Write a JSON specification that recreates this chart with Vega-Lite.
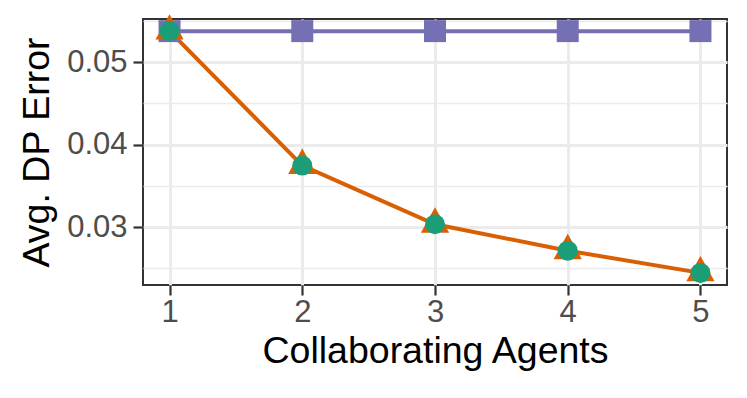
{
  "$schema": "https://vega.github.io/schema/vega-lite/v6.json",
  "width": 584,
  "height": 266,
  "autosize": {"type": "none"},
  "padding": {"left": 143, "top": 19, "right": 20, "bottom": 113},
  "background": "white",
  "config": {
    "font": "Liberation Sans",
    "view": {"stroke": "#333333", "strokeWidth": 2},
    "axis": {
      "domain": false,
      "gridColor": "#EBEBEB",
      "tickColor": "#333333",
      "tickWidth": 2.2,
      "tickSize": 10,
      "labelColor": "#4D4D4D",
      "labelFontSize": 31,
      "labelFont": "Liberation Sans",
      "titleFont": "Liberation Sans",
      "titleFontSize": 37.5,
      "titleFontWeight": "normal",
      "titleColor": "#000000",
      "labelOverlap": false,
      "labelFlush": false
    }
  },
  "data": {
    "values": [
      {"series": "A", "agents": 1, "error": 0.05377},
      {"series": "A", "agents": 2, "error": 0.05377},
      {"series": "A", "agents": 3, "error": 0.05377},
      {"series": "A", "agents": 4, "error": 0.05377},
      {"series": "A", "agents": 5, "error": 0.05377},
      {"series": "B", "agents": 1, "error": 0.05377},
      {"series": "B", "agents": 2, "error": 0.03747},
      {"series": "B", "agents": 3, "error": 0.03036},
      {"series": "B", "agents": 4, "error": 0.02715},
      {"series": "B", "agents": 5, "error": 0.02446},
      {"series": "C", "agents": 1, "error": 0.05377},
      {"series": "C", "agents": 2, "error": 0.03747},
      {"series": "C", "agents": 3, "error": 0.03036},
      {"series": "C", "agents": 4, "error": 0.02715},
      {"series": "C", "agents": 5, "error": 0.02446}
    ]
  },
  "encoding": {
    "x": {
      "field": "agents",
      "type": "quantitative",
      "title": "Collaborating Agents",
      "scale": {"domain": [0.8, 5.2], "nice": false, "zero": false},
      "axis": {
        "values": [1, 1.5, 2, 2.5, 3, 3.5, 4, 4.5, 5],
        "labelExpr": "datum.value % 1 === 0 ? datum.label : ''",
        "format": "d",
        "gridWidth": {"condition": {"test": "datum.value % 1 !== 0", "value": 1.5}, "value": 3},
        "tickOpacity": {"condition": {"test": "datum.value % 1 !== 0", "value": 0}, "value": 1},
        "labelPadding": 2,
        "titlePadding": 5
      }
    },
    "y": {
      "field": "error",
      "type": "quantitative",
      "title": "Avg. DP Error",
      "scale": {"domain": [0.02299, 0.05524], "nice": false, "zero": false},
      "axis": {
        "values": [0.025, 0.03, 0.035, 0.04, 0.045, 0.05, 0.055],
        "format": ".2f",
        "labelExpr": "abs(datum.value*100 - round(datum.value*100)) > 0.001 ? '' : datum.label",
        "gridWidth": {"condition": {"test": "abs(datum.value*100 - round(datum.value*100)) > 0.001", "value": 1.5}, "value": 3},
        "tickOpacity": {"condition": {"test": "abs(datum.value*100 - round(datum.value*100)) > 0.001", "value": 0}, "value": 1},
        "labelPadding": 6,
        "titlePadding": 10
      }
    },
    "color": {
      "field": "series",
      "type": "nominal",
      "legend": null,
      "scale": {"domain": ["A", "B", "C"], "range": ["#7570B3", "#D95F02", "#1B9E77"]}
    }
  },
  "layer": [
    {
      "transform": [{"filter": "datum.series !== 'C'"}],
      "mark": {"type": "line", "strokeWidth": 4},
      "encoding": {"detail": {"field": "series", "type": "nominal"}}
    },
    {
      "mark": {"type": "point", "filled": true, "opacity": 1},
      "encoding": {
        "shape": {
          "field": "series",
          "type": "nominal",
          "legend": null,
          "scale": {"domain": ["A", "B", "C"], "range": ["square", "M0,-1.2L-1,0.6L1,0.6Z", "circle"]}
        },
        "size": {
          "field": "series",
          "type": "nominal",
          "legend": null,
          "scale": {"type": "ordinal", "domain": ["A", "B", "C"], "range": [484, 800, 400]}
        }
      }
    }
  ]
}
